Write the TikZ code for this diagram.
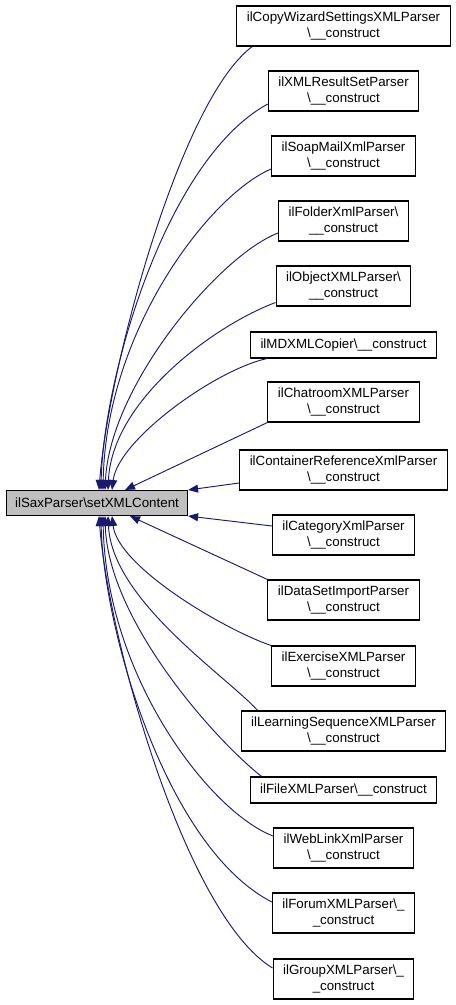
\documentclass[tikz,border=0pt]{standalone}
\usepackage{fontspec}
\setmainfont{Liberation Sans}
\usetikzlibrary{arrows.meta,calc}
\definecolor{edgeblue}{HTML}{191970}
\tikzset {
  >={Triangle[length=7.5pt,width=6pt]},
  every node/.style={font=\fontsize{10}{11.5}\selectfont},
  box/.style={draw=black,line width=0.8pt,fill=white,align=center,
    inner xsep=7.5pt,inner ysep=2pt,minimum height=19.5pt},
  tall/.style={box,minimum height=30pt},
  mainbox/.style={box,fill=black!25,minimum height=18.75pt,inner xsep=6.5pt},
  edge/.style={<-,draw=edgeblue,line width=0.7pt},
}

\begin{document}
\begin{tikzpicture}[x=0.75pt,y=-0.75pt]
  \useasboundingbox (0,0) rectangle (456,1005);
  \node[mainbox] (main) at (97,503) {ilSaxParser\textbackslash setXMLContent};
  \node[tall] (c1) at (343.5,26) {ilCopyWizardSettingsXMLParser\\\textbackslash\_\_construct};
  \node[tall] (c2) at (343.5,91) {ilXMLResultSetParser\\\textbackslash\_\_construct};
  \node[tall] (c3) at (343.5,156) {ilSoapMailXmlParser\\\textbackslash\_\_construct};
  \node[tall] (c4) at (343.5,221) {ilFolderXmlParser\textbackslash\\\_\_construct};
  \node[tall] (c5) at (343.5,286) {ilObjectXMLParser\textbackslash\\\_\_construct};
  \node[box] (c6) at (343.5,345) {ilMDXMLCopier\textbackslash\_\_construct};
  \node[tall] (c7) at (343.5,402) {ilChatroomXMLParser\\\textbackslash\_\_construct};
  \node[tall] (c8) at (343.5,470) {ilContainerReferenceXmlParser\\\textbackslash\_\_construct};
  \node[tall] (c9) at (343.5,535) {ilCategoryXmlParser\\\textbackslash\_\_construct};
  \node[tall] (c10) at (343.5,600) {ilDataSetImportParser\\\textbackslash\_\_construct};
  \node[tall] (c11) at (343.5,666) {ilExerciseXMLParser\\\textbackslash\_\_construct};
  \node[tall] (c12) at (343.5,731) {ilLearningSequenceXMLParser\\\textbackslash\_\_construct};
  \node[box] (c13) at (343.5,790) {ilFileXMLParser\textbackslash\_\_construct};
  \node[tall] (c14) at (343.5,848) {ilWebLinkXmlParser\\\textbackslash\_\_construct};
  \node[tall] (c15) at (343.5,913) {ilForumXMLParser\textbackslash\_\\\_construct};
  \node[tall] (c16) at (343.5,979) {ilGroupXMLParser\textbackslash\_\\\_construct};

  \draw[edge] ($(main.north)+(2,0)$) .. controls (108,370) and (180,100) .. ($(c1.south west)+(16,0)$);
  \draw[edge] ($(main.north)+(4,0)$) .. controls (103,380) and (165,160) .. ($(c2.west)+(0,13)$);
  \draw[edge] ($(main.north)+(6,0)$) .. controls (106,330) and (210,195) .. ($(c3.west)+(0,13)$);
  \draw[edge] ($(main.north)+(8,0)$) .. controls (110,385) and (220,255) .. ($(c4.west)+(0,12)$);
  \draw[edge] ($(main.north)+(11,0)$) .. controls (112,400) and (215,325) .. ($(c5.south west)+(0,-4)$);
  \draw[edge] ($(main.north)+(15,0)$) .. controls (118,440) and (215,370) .. ($(c6.south west)+(17,0)$);
  \draw[edge] ($(main.north)+(28,0)$) -- (c7.south west);
  \draw[edge] (main.north east) -- ($(c8.west)+(0,13)$);
  \draw[edge] (main.south east) -- ($(c9.west)+(0,-9)$);
  \draw[edge] ($(main.south)+(33,0)$) -- (c10.north west);
  \draw[edge] ($(main.south)+(15,0)$) .. controls (118,567) and (225,630) .. (c11.north west);
  \draw[edge] ($(main.south)+(11,0)$) .. controls (112,600) and (225,675) .. ($(c12.north west)+(17,0)$);
  \draw[edge] ($(main.south)+(8,0)$) .. controls (108,620) and (215,740) .. ($(c13.north west)+(12,0)$);
  \draw[edge] ($(main.south)+(6,0)$) .. controls (106,677) and (210,812) .. ($(c14.west)+(0,-12)$);
  \draw[edge] ($(main.south)+(4,0)$) .. controls (103,627) and (165,847) .. ($(c15.west)+(0,-11)$);
  \draw[edge] ($(main.south)+(2,0)$) .. controls (108,637) and (185,915) .. ($(c16.west)+(0,-11)$);
\end{tikzpicture}
\end{document}
